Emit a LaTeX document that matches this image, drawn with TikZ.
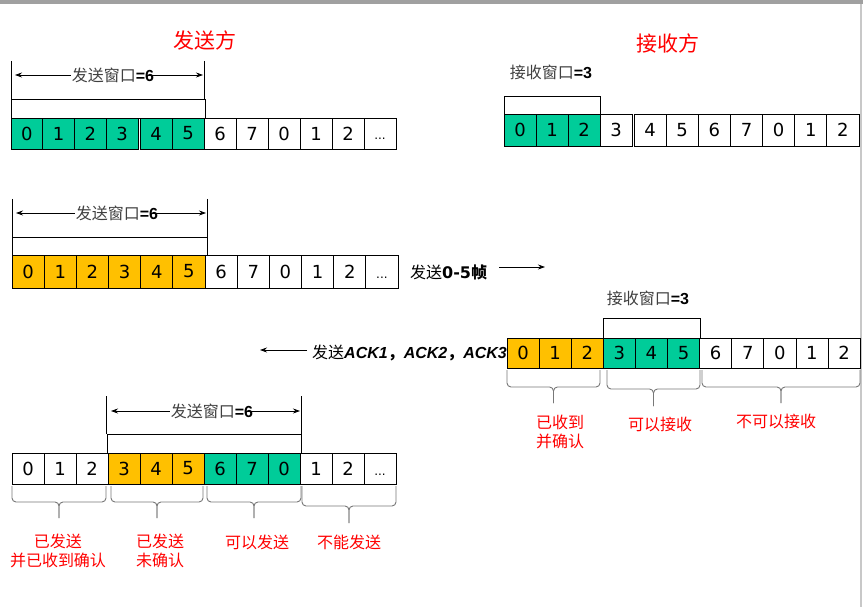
\documentclass[tikz,border=0pt]{standalone}
\usepackage{fontspec}
\setmainfont{DejaVu Sans}
\newfontfamily\cjk{Noto Sans CJK SC}
\newfontfamily\lib{Liberation Sans}
\usetikzlibrary{arrows.meta}
\definecolor{cgreen}{RGB}{0,204,153}
\definecolor{corange}{RGB}{255,192,0}
\definecolor{cred}{RGB}{255,0,0}
\definecolor{clabel}{RGB}{64,64,64}
\definecolor{cbrace}{RGB}{120,120,120}
\definecolor{cbar}{RGB}{160,160,160}
\definecolor{cedge}{RGB}{200,200,200}
\newcommand\celldots{\rule{0pt}{13pt}{\fontsize{12}{12}\selectfont...}}
\newcommand\curlybrace[5]{%
  \draw[bracepath] (#1,#3) -- (#1,#4) -- ({(#1+#2)/2},#4) -- ({(#1+#2)/2},#5);
  \draw[bracepath] (#2,#3) -- (#2,#4) -- ({(#1+#2)/2},#4) -- ({(#1+#2)/2},#5);}
\tikzset{
  cell/.style={draw=black, line width=0.8pt, inner sep=0pt, font=\fontsize{18}{18}\selectfont},
  gcell/.style={cell, fill=cgreen},
  ocell/.style={cell, fill=corange},
  winbox/.style={draw=black, line width=0.8pt},
  winline/.style={draw=black, line width=0.8pt},
  dimarrow/.style={line width=0.8pt, -{Stealth[length=7pt,width=5pt]}},
  flowarrow/.style={line width=0.8pt, -{Stealth[length=7pt,width=5pt]}},
  winlabel/.style={font=\fontsize{16}{16}\selectfont, inner sep=1pt, fill=white},
  redlabel/.style={text=cred, font=\cjk\fontsize{16}{19}\selectfont, align=center},
  titletext/.style={text=cred, font=\cjk\fontsize{21}{21}\selectfont},
  bracepath/.style={draw=cbrace, line width=0.9pt, rounded corners=4pt},
  flowtext/.style={font=\fontsize{16}{16}\selectfont, anchor=west, inner sep=0pt},
}
\begin{document}
\begin{tikzpicture}[x=1pt,y=-1pt]
\useasboundingbox (0,0) rectangle (863,607);
\fill[white] (0,0) rectangle (863,607);
\fill[cbar] (0,0) rectangle (863,4);
\fill[cedge] (860,4) rectangle (862,607);

% titles
\node[titletext] (t1) at (205,40) {发送方};
\node[titletext] (t2) at (668,43) {接收方};

% ===== sender row 1 =====
\foreach \v/\s [count=\i] in {0/gcell,1/gcell,2/gcell,3/gcell}
  \node[\s, minimum width=31.75pt, minimum height=31pt] (a\i) at ({11+(\i-0.5)*31.75},133.5) {\v};
\foreach \v/\s [count=\i] in {4/gcell,5/gcell,6/cell,7/cell,0/cell,1/cell,2/cell,\celldots/cell}
  \node[\s, minimum width=32pt, minimum height=31pt] (b\i) at ({140+(\i-0.5)*32},133.5) {\v};
\draw[winline] (11,61) -- (11,99);
\draw[winline] (204,61) -- (204,99);
\draw[winbox] (11,99) rectangle (205,118);
\coordinate (w1l) at (15,75);
\coordinate (w1r) at (203,75);
\node[winlabel] (w1) at (113,75) {\textcolor{clabel}{\cjk 发送窗口}\lib\bfseries =6};
\draw[dimarrow] (w1.west) -- (w1l);
\draw[dimarrow] ([xshift=-9pt]w1.east) -- (w1r);

% ===== receiver row 1 =====
\node[winlabel, fill=none] (w2) at (551,72) {\textcolor{clabel}{\cjk 接收窗口}\lib\bfseries =3};
\draw[winbox] (504,96) rectangle (600,114);
\foreach \v/\s [count=\i] in {0/gcell,1/gcell,2/gcell,3/cell}
  \node[\s, minimum width=32pt, minimum height=32pt] (c\i) at ({504+(\i-0.5)*32},130) {\v};
\foreach \v/\s [count=\i] in {4/cell,5/cell,6/cell,7/cell,0/cell,1/cell,2/cell}
  \node[\s, minimum width=32.14pt, minimum height=32pt] (d\i) at ({634+(\i-0.5)*32.14},130) {\v};

% ===== sender row 2 =====
\draw[winline] (12,199) -- (12,237);
\draw[winline] (207,199) -- (207,237);
\draw[winbox] (12,237) rectangle (207,255);
\coordinate (w3l) at (16,213);
\coordinate (w3r) at (206,213);
\node[winlabel] (w3) at (117,213) {\textcolor{clabel}{\cjk 发送窗口}\lib\bfseries =6};
\draw[dimarrow] (w3.west) -- (w3l);
\draw[dimarrow] ([xshift=-9pt]w3.east) -- (w3r);
\foreach \v/\s [count=\i] in {0/ocell,1/ocell,2/ocell,3/ocell,4/ocell,5/ocell,6/cell,7/cell,0/cell,1/cell,2/cell,\celldots/cell}
  \node[\s, minimum width=32.17pt, minimum height=33pt] (e\i) at ({12+(\i-0.5)*32.17},271.5) {\v};
\node[flowtext] (f1) at (410,272) {{\cjk 发送}\bfseries 0-5{\cjk 帧}};
\coordinate (f1a) at (499,267);
\coordinate (f1b) at (545,267);
\draw[flowarrow] (f1a) -- (f1b);

% ===== receiver row 3 =====
\node[winlabel, fill=none] (w4) at (648,298) {\textcolor{clabel}{\cjk 接收窗口}\lib\bfseries =3};
\draw[winbox] (603,318) rectangle (700,338);
\foreach \v/\s [count=\i] in {0/ocell,1/ocell,2/ocell,3/gcell,4/gcell,5/gcell,6/cell,7/cell,0/cell,1/cell,2/cell}
  \node[\s, minimum width=32.1pt, minimum height=30pt] (g\i) at ({507+(\i-0.5)*32.1},353) {\v};
\node[flowtext] (f2) at (312,353) {{\cjk 发送}\lib\bfseries\itshape ACK1{\cjk ，}ACK2{\cjk ，}ACK3};
\coordinate (f2a) at (307,350);
\coordinate (f2b) at (260,350);
\draw[flowarrow] (f2a) -- (f2b);
\curlybrace{507}{600}{370}{387}{403}
\curlybrace{607}{700}{370}{389}{406}
\curlybrace{702}{860}{370}{387}{403}
\node[redlabel] (r1) at (560,432) {已收到\\并确认};
\node[redlabel] (r2) at (660,424) {可以接收};
\node[redlabel] (r3) at (776,421) {不可以接收};

% ===== sender row 4 =====
\draw[winline] (106,396) -- (106,434);
\draw[winline] (301,396) -- (301,434);
\draw[winbox] (107,434) rectangle (301,453);
\coordinate (w5l) at (111,411);
\coordinate (w5r) at (300,411);
\node[winlabel] (w5) at (212,411) {\textcolor{clabel}{\cjk 发送窗口}\lib\bfseries =6};
\draw[dimarrow] (w5.west) -- (w5l);
\draw[dimarrow] ([xshift=-9pt]w5.east) -- (w5r);
\foreach \v/\s [count=\i] in {0/cell,1/cell,2/cell,3/ocell,4/ocell,5/ocell,6/gcell,7/gcell,0/gcell,1/cell,2/cell,\celldots/cell}
  \node[\s, minimum width=32pt, minimum height=31pt] (h\i) at ({12+(\i-0.5)*32},468.5) {\v};
\curlybrace{12}{106}{486}{502}{518}
\curlybrace{111}{203}{486}{502}{518}
\curlybrace{207}{301}{486}{502}{518}
\curlybrace{302}{396}{486}{506}{523}
\node[redlabel] (s1) at (58,551) {已发送\\并已收到确认};
\node[redlabel] (s2) at (160,551) {已发送\\未确认};
\node[redlabel] (s3) at (257,542) {可以发送};
\node[redlabel] (s4) at (349,542) {不能发送};
\end{tikzpicture}
\end{document}
